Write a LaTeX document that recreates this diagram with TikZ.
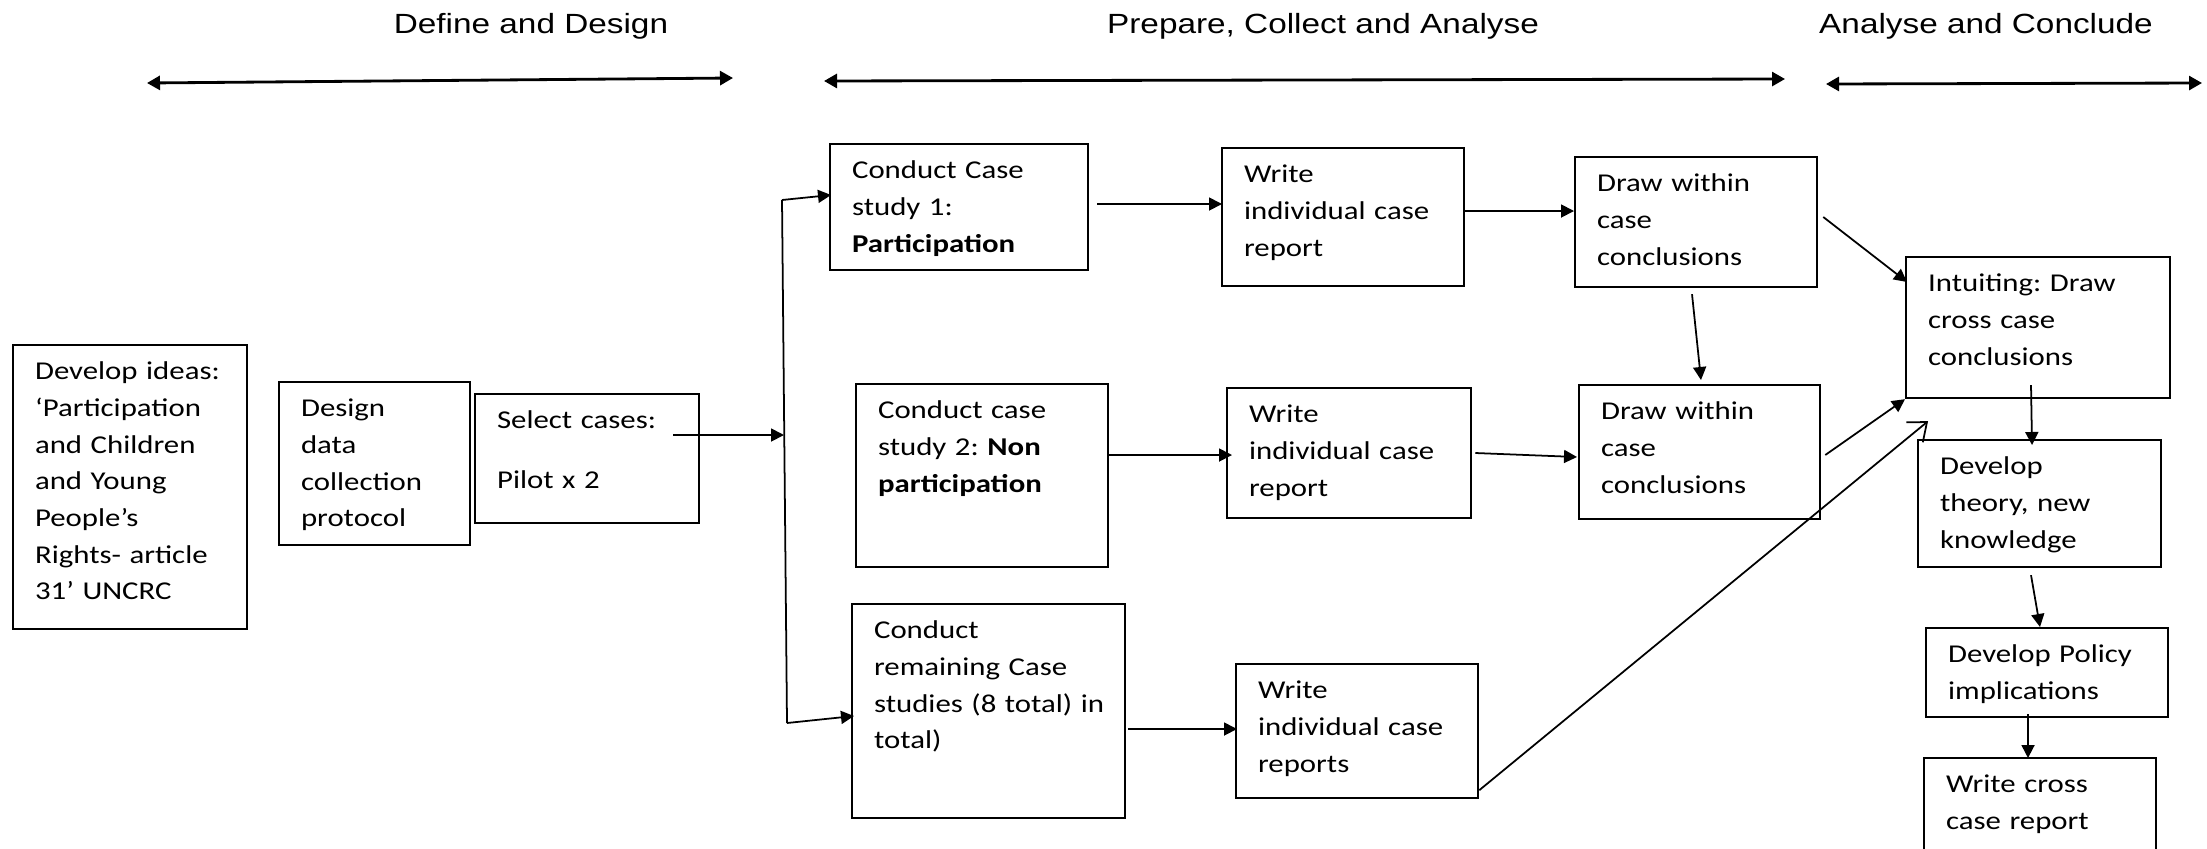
\documentclass[tikz,border=0pt]{standalone}
\usepackage{fontspec}
\usetikzlibrary{arrows.meta,calc}
\newfontfamily\boxfont[FakeStretch=1.2]{Carlito}
\newfontfamily\phasefont[FakeStretch=1.2]{Liberation Sans}
\frenchspacing

\begin{document}
\begin{tikzpicture}[
    x=0.01cm, y=-0.01cm,
    stage/.style={rectangle, draw, line width=0.6pt, anchor=north west, align=left, inner xsep=0.22cm, inner ysep=0.145cm, text height=0.2cm, font=\boxfont\fontsize{7.3}{10.44}\selectfont},
    phase/.style={anchor=base, inner sep=0pt, font=\phasefont\fontsize{7.9}{9}\selectfont},
    arrow/.style={line width=0.5pt, -{Triangle[length=1.3mm,width=1.3mm]}},
    openarrow/.style={line width=0.5pt, -{Straight Barb[length=1.6mm,width=2.6mm]}},
    phasearrow/.style={line width=0.8pt, {Triangle[length=1.3mm,width=1.4mm]}-{Triangle[length=1.3mm,width=1.4mm]}}
]
    \useasboundingbox (0,0) rectangle (2207,848);

    % Phases
    \node [phase] (define) at (531,33) {Define and Design};
    \node [phase] (prepare) at (1323,33) {Prepare, Collect and Analyse};
    \node [phase] (conclude) at (1986,33) {Analyse and Conclude};
    \coordinate (d1) at (147,83);  \coordinate (d2) at (733,78);
    \coordinate (p1) at (824,81);  \coordinate (p2) at (1785,79);
    \coordinate (c1) at (1826,84); \coordinate (c2) at (2202,83);
    \draw [phasearrow] (d1) -- (d2);
    \draw [phasearrow] (p1) -- (p2);
    \draw [phasearrow] (c1) -- (c2);

    % Design stage
    \node [stage, text width=1.90cm, text depth=2.35cm] (ideas) at (12,344) {Develop ideas:\\‘Participation\\and Children\\and Young\\People’s\\Rights- article\\31’ UNCRC};
    \node [stage, text width=1.47cm, text depth=1.14cm] (design) at (278,381) {Design\\data\\collection\\protocol};
    \node [stage, text width=1.80cm, text depth=0.80cm] (select) at (474,393) {Select cases:\\[6.6pt]Pilot x 2};

    % Case studies
    \node [stage, text width=2.14cm, text depth=0.77cm] (case1) at (829,143) {Conduct Case\\study 1:\\\textbf{Participation}};
    \node [stage, text width=2.08cm, text depth=1.34cm] (case2) at (855,383) {Conduct case\\study 2: \textbf{Non}\\\textbf{participation}};
    \node [stage, text width=2.29cm, text depth=1.65cm] (case3) at (851,603) {Conduct\\remaining Case\\\mbox{studies (8 total) in}\\total)};

    % Case reports
    \node [stage, text width=1.98cm, text depth=0.89cm] (report1) at (1221,147) {Write\\individual case\\report};
    \node [stage, text width=2.00cm, text depth=0.81cm] (report2) at (1226,387) {Write\\individual case\\report};
    \node [stage, text width=1.98cm, text depth=0.85cm] (report3) at (1235,663) {Write\\individual case\\reports};

    % Within case conclusions
    \node [stage, text width=1.98cm, text depth=0.81cm] (within1) at (1574,156) {Draw within\\case\\conclusions};
    \node [stage, text width=1.97cm, text depth=0.85cm] (within2) at (1578,384) {Draw within\\case\\conclusions};

    % Cross case stage
    \node [stage, text width=2.20cm, text depth=0.92cm] (cross) at (1905,256) {Intuiting: Draw\\cross case\\conclusions};
    \node [stage, text width=1.99cm, text depth=0.78cm] (theory) at (1917,439) {Develop\\theory, new\\knowledge};
    \node [stage, text width=1.98cm, text depth=0.40cm] (policy) at (1925,627) {Develop Policy\\implications};
    \node [stage, text width=1.88cm, text depth=0.71cm] (crossreport) at (1923,757) {Write cross\\case report};

    % Split to the cases
    \coordinate (bustop) at (782,200);
    \coordinate (busbot) at (787,723);
    \coordinate (busin) at (784,435);
    \draw [arrow] ($(select.north east)+(-27,42)$) -- (busin);
    \draw [line width=0.5pt] (bustop) -- (busbot);
    \draw [arrow] (bustop) -- ($(case1.north west)+(2,52)$);
    \draw [arrow] (busbot) -- ($(case3.north west)+(3,113)$);

    % Arrows
    \draw [arrow] ($(case1.north east)+(8,61)$) -- ($(report1.north west)+(1,57)$);
    \draw [arrow] ($(report1.north east)+(0,64)$) -- ($(within1.north west)+(0,55)$);
    \draw [arrow] ($(within1.south west)+(118,6)$) -- ($(within2.north west)+(123,-4)$);
    \draw [arrow] ($(within1.north east)+(5,61)$) -- ($(cross.north west)+(2,26)$);
    \draw [arrow] ($(case2.north east)+(-1,72)$) -- ($(report2.north west)+(6,68)$);
    \draw [arrow] ($(report2.north east)+(3,66)$) -- ($(within2.north west)+(-1,73)$);
    \draw [arrow] ($(within2.north east)+(4,71)$) -- (cross.south west);
    \draw [arrow] ($(case3.north east)+(2,126)$) -- ($(report3.north west)+(2,66)$);
    \draw [openarrow] ($(report3.south east)+(0,-9)$) -- ($(cross.south west)+(23,22)$);
    \draw [arrow] ($(cross.south west)+(126,-14)$) -- ($(theory.north west)+(115,6)$);
    \draw [arrow] ($(theory.south west)+(114,7)$) -- ($(policy.north west)+(115,0)$);
    \draw [arrow] ($(policy.south west)+(103,-4)$) -- ($(crossreport.north west)+(105,1)$);
\end{tikzpicture}
\end{document}
